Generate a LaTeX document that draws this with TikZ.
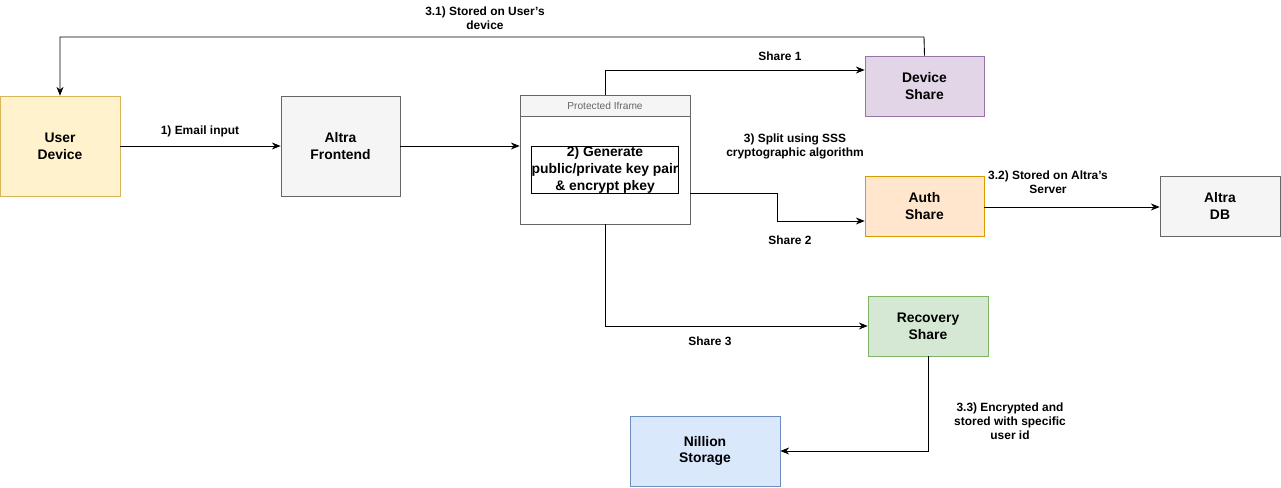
\documentclass[tikz,border=0pt]{standalone}
\usepackage{fontspec}
\setmainfont{Liberation Sans}
\usetikzlibrary{arrows.meta}
\definecolor{ydf}{HTML}{FFF2CC}\definecolor{ydd}{HTML}{D6B656}
\definecolor{gf}{HTML}{F5F5F5}\definecolor{gd}{HTML}{666666}
\definecolor{pf}{HTML}{E1D5E7}\definecolor{pd}{HTML}{9673A6}
\definecolor{of}{HTML}{FFE6CC}\definecolor{od}{HTML}{D79B00}
\definecolor{grf}{HTML}{D5E8D4}\definecolor{grd}{HTML}{82B366}
\definecolor{bf}{HTML}{DAE8FC}\definecolor{bd}{HTML}{6C8EBF}
\begin{document}
\begin{tikzpicture}[x=0.02cm,y=-0.02cm,
 box/.style={draw,font=\fontsize{7.9}{9.5}\selectfont\bfseries,align=center,inner sep=0pt},
 lab/.style={font=\fontsize{6.8}{8}\selectfont\bfseries,align=center},
 arr/.style={-{Stealth[length=5pt,width=4pt]},line width=0.5pt}]
\useasboundingbox (0,0) rectangle (1281,487);
\node[box,fill=ydf,draw=ydd,minimum width=120*0.02cm,minimum height=100*0.02cm] (ud) at (60,146) {User\\Device};
\node[box,fill=gf,draw=gd,minimum width=119*0.02cm,minimum height=100*0.02cm] (fe) at (340.5,146) {Altra\\Frontend};
\node[box,draw=gd,minimum width=170*0.02cm,minimum height=129*0.02cm] (ifr) at (605,159.5) {};
\node[box,fill=gf,draw=gd,minimum width=170*0.02cm,minimum height=21*0.02cm,font=\fontsize{5.8}{7}\selectfont,text=gd] (hd) at (605,105.5) {Protected Iframe};
\node[box] (it) at (605,170) {2) Generate\\public/private key pair\\\& encrypt pkey};
\node[box,fill=pf,draw=pd,minimum width=119*0.02cm,minimum height=60*0.02cm] (ds) at (924.5,86) {Device\\Share};
\node[box,fill=of,draw=od,minimum width=119*0.02cm,minimum height=60*0.02cm] (as) at (924.5,206) {Auth\\Share};
\node[box,fill=gf,draw=gd,minimum width=120*0.02cm,minimum height=60*0.02cm] (db) at (1220,206) {Altra\\DB};
\node[box,fill=grf,draw=grd,minimum width=120*0.02cm,minimum height=60*0.02cm] (rs) at (928,326) {Recovery\\Share};
\node[box,fill=bf,draw=bd,minimum width=150*0.02cm,minimum height=70*0.02cm] (ns) at (705,451) {Nillion\\Storage};
\coordinate (c1) at (924,37);\coordinate (c2) at (60,37);
\draw[arr] (ds.north) -- (c1) -- (c2) -- (ud.north);
\node[lab] (l31) at (485,18) {3.1) Stored on User's\\device};
\draw[arr] (ud.east) -- (fe.east-|fe.west);
\node[lab] (l1) at (200,131) {1) Email input};
\draw[arr] (fe.east) -- (ifr.west|-fe.east);
\draw[arr] (hd.north) |- (ds.west|-0,70);
\node[lab] (s1) at (780,56) {Share 1};
\coordinate (a1) at (690,193);\coordinate (a2) at (777,193);\coordinate (a3) at (777,221);
\draw[arr] (a1) -- (a2) -- (a3) -- (as.west|-a3);
\node[lab] (s2) at (790,240) {Share 2};
\node[lab] (l3) at (795,146) {3) Split using SSS\\cryptographic algorithm};
\draw[arr] (ifr.south) |- (rs.west);
\node[lab] (s3) at (710,341) {Share 3};
\draw[arr] (as.east|-0,207) -- (db.west|-0,207);
\node[lab] (l32) at (1048,182) {3.2) Stored on Altra's\\Server};
\draw[arr] (rs.south) |- (ns.east);
\node[lab] (l33) at (1010,421) {3.3) Encrypted and\\stored with specific\\user id};
\end{tikzpicture}
\end{document}
